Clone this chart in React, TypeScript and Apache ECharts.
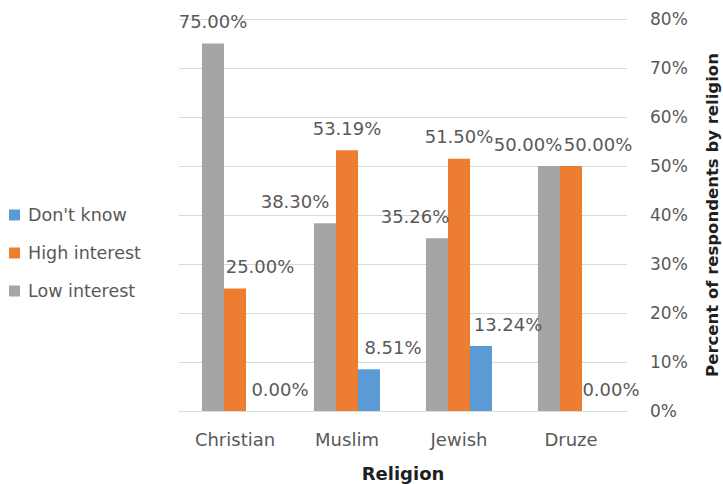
import React, { useEffect, useRef } from "react";
import * as echarts from "echarts";

// Survey results: share of respondents by religion and level of interest
const religions = ["Christian", "Muslim", "Jewish", "Druze"];
const lowInterest = [75.0, 38.3, 35.26, 50.0];
const highInterest = [25.0, 53.19, 51.5, 50.0];
const dontKnow = [0.0, 8.51, 13.24, 0.0];
const percentTicks = [0, 10, 20, 30, 40, 50, 60, 70, 80];

// Horizontal nudges for individual value labels so neighbours don't collide
const lowShift = [0, -30, -22, -21];
const highShift = [25, 0, 0, 27];
const dontKnowShift = [23, 24, 27, 18];

const FONT = "DejaVu Sans";
const TEXT = "#595959";

function withShift(values: number[], shifts: number[]) {
  return values.map((v, i) => ({ value: v, label: { offset: [shifts[i], 0] } }));
}

function barSeries(name: string, color: string, values: number[], shifts: number[]) {
  return {
    name,
    type: "bar",
    barWidth: 22,
    barGap: "0%",
    itemStyle: { color },
    label: {
      show: true,
      position: "top",
      distance: 13,
      color: TEXT,
      fontFamily: FONT,
      fontSize: 18,
      formatter: (p: any) => `${Number(p.value).toFixed(2)}%`,
    },
    data: withShift(values, shifts),
  };
}

export default function App() {
  const ref = useRef<HTMLDivElement>(null);

  useEffect(() => {
    if (!ref.current) return;
    const chart = echarts.init(ref.current, undefined, { renderer: "svg" });
    chart.setOption({
      animation: false,
      backgroundColor: "#ffffff",
      textStyle: { fontFamily: FONT },
      grid: { left: 179, right: 96, top: 19, bottom: 73, containLabel: false, outerBoundsMode: "none" },
      legend: {
        orient: "vertical",
        left: 4,
        top: 201,
        itemWidth: 11,
        itemHeight: 11,
        itemGap: 20,
        icon: "rect",
        data: ["Don't know", "High interest", "Low interest"],
        textStyle: { color: TEXT, fontFamily: FONT, fontSize: 17.5, padding: [0, 0, 0, 3] },
      },
      xAxis: {
        type: "category",
        data: religions,
        name: "Religion",
        nameLocation: "middle",
        nameGap: 53,
        nameTextStyle: { color: "#1f1f1f", fontFamily: FONT, fontSize: 18, fontWeight: "bold" },
        axisTick: { show: false },
        axisLine: { lineStyle: { color: "#d9d9d9", width: 1 } },
        axisLabel: { color: TEXT, fontFamily: FONT, fontSize: 18, margin: 19 },
      },
      yAxis: {
        type: "value",
        position: "right",
        min: percentTicks[0],
        max: percentTicks[percentTicks.length - 1],
        interval: percentTicks[1] - percentTicks[0],
        name: "Percent of respondents by religion",
        nameLocation: "middle",
        nameRotate: 90,
        nameGap: 77,
        nameTextStyle: { color: "#1f1f1f", fontFamily: FONT, fontSize: 16.5, fontWeight: "bold" },
        axisLine: { show: false },
        axisTick: { show: false },
        axisLabel: {
          color: TEXT,
          fontFamily: FONT,
          fontSize: 17,
          margin: 23,
          formatter: (v: number) => `${v}%`,
        },
        splitLine: { lineStyle: { color: "#d9d9d9", width: 1 } },
      },
      series: [
        barSeries("Low interest", "#a5a5a5", lowInterest, lowShift),
        barSeries("High interest", "#ed7d31", highInterest, highShift),
        barSeries("Don't know", "#5b9bd5", dontKnow, dontKnowShift),
      ],
    });
    return () => chart.dispose();
  }, []);

  return <div ref={ref} style={{ width: 723, height: 484, position: "absolute", left: 0, top: 0 }} />;
}
